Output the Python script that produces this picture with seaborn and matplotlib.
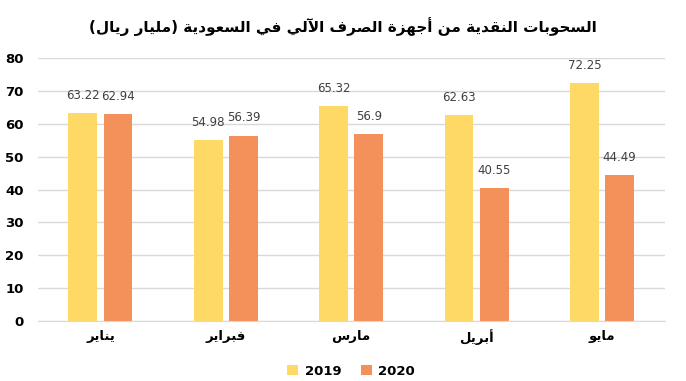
import pandas as pd
import matplotlib
matplotlib.use("Agg")
import matplotlib.pyplot as plt
import seaborn as sns

# Data
months = ["يناير", "فبراير", "مارس", "أبريل", "مايو"]
vals_2019 = [63.22, 54.98, 65.32, 62.63, 72.25]
vals_2020 = [62.94, 56.39, 56.9, 40.55, 44.49]
years = ["2019", "2020"]
title = "السحوبات النقدية من أجهزة الصرف الآلي في السعودية (مليار ريال)"

# Arabic shaping (matplotlib has no shaping/bidi): presentation forms
# (isolated, final, initial, medial); None means right-joining only
FORMS = {
    "ا": (0xFE8D, 0xFE8E, None, None), "أ": (0xFE83, 0xFE84, None, None),
    "آ": (0xFE81, 0xFE82, None, None), "ة": (0xFE93, 0xFE94, None, None),
    "د": (0xFEA9, 0xFEAA, None, None), "ر": (0xFEAD, 0xFEAE, None, None),
    "ز": (0xFEAF, 0xFEB0, None, None), "و": (0xFEED, 0xFEEE, None, None),
    "ب": (0xFE8F, 0xFE90, 0xFE91, 0xFE92), "ت": (0xFE95, 0xFE96, 0xFE97, 0xFE98),
    "ج": (0xFE9D, 0xFE9E, 0xFE9F, 0xFEA0), "ح": (0xFEA1, 0xFEA2, 0xFEA3, 0xFEA4),
    "س": (0xFEB1, 0xFEB2, 0xFEB3, 0xFEB4), "ص": (0xFEB9, 0xFEBA, 0xFEBB, 0xFEBC),
    "ع": (0xFEC9, 0xFECA, 0xFECB, 0xFECC), "ف": (0xFED1, 0xFED2, 0xFED3, 0xFED4),
    "ق": (0xFED5, 0xFED6, 0xFED7, 0xFED8), "ل": (0xFEDD, 0xFEDE, 0xFEDF, 0xFEE0),
    "م": (0xFEE1, 0xFEE2, 0xFEE3, 0xFEE4), "ن": (0xFEE5, 0xFEE6, 0xFEE7, 0xFEE8),
    "ه": (0xFEE9, 0xFEEA, 0xFEEB, 0xFEEC), "ي": (0xFEF1, 0xFEF2, 0xFEF3, 0xFEF4),
}
LAM_ALEF = {"ا": (0xFEFB, 0xFEFC), "أ": (0xFEF7, 0xFEF8), "آ": (0xFEF5, 0xFEF6)}


def dual(c):
    return c in FORMS and FORMS[c][2] is not None


def shape(text):
    out = []
    i = 0
    while i < len(text):
        c = text[i]
        prev = text[i - 1] if i > 0 else ""
        if c not in FORMS:
            out.append({"(": ")", ")": "("}.get(c, c))
            i += 1
            continue
        joined_prev = dual(prev)
        if c == "ل" and i + 1 < len(text) and text[i + 1] in LAM_ALEF:
            lig = LAM_ALEF[text[i + 1]]
            out.append(chr(lig[1] if joined_prev else lig[0]))
            i += 2
            continue
        nxt = text[i + 1] if i + 1 < len(text) else ""
        joined_next = dual(c) and nxt in FORMS
        f = FORMS[c]
        if joined_prev and joined_next:
            code = f[3]
        elif joined_prev:
            code = f[1]
        elif joined_next:
            code = f[2]
        else:
            code = f[0]
        out.append(chr(code))
        i += 1
    return "".join(reversed(out))


df = pd.DataFrame({
    "month": months * 2,
    "year": [years[0]] * len(months) + [years[1]] * len(months),
    "value": vals_2019 + vals_2020,
})

sns.set_style("white")
plt.rcParams["font.family"] = ["DejaVu Sans"]

fig = plt.figure(figsize=(6.86, 3.81), dpi=100)
ax = fig.add_axes([0.055, 0.157, 0.914, 0.691])

sns.barplot(data=df, x="month", y="value", hue="year",
            palette=["#FFD966", "#F4915A"], width=0.56, gap=0.18,
            saturation=1, linewidth=0, ax=ax, legend=True)

for cont in ax.containers:
    ax.bar_label(cont, labels=[f"{v:g}" for v in cont.datavalues],
                 padding=8, fontsize=8.5, color="#404040")

ax.set_ylim(0, 80)
ax.set_yticks(range(0, 81, 10))
ax.set_xlim(-0.5, 4.5)
ax.yaxis.grid(True, color="#d9d9d9", linewidth=1)
ax.set_axisbelow(True)
for s in ["left", "right", "top"]:
    ax.spines[s].set_visible(False)
ax.spines["bottom"].set_color("#d9d9d9")
ax.tick_params(axis="both", length=0, colors="black")
ax.tick_params(axis="y", pad=10)
ax.tick_params(axis="x", pad=6)
ax.set_xticks(range(len(months)))
ax.set_xticklabels([shape(m) for m in months], fontweight="bold", fontsize=9.5)
for lab in ax.get_yticklabels():
    lab.set_fontweight("bold")
    lab.set_fontsize(9.5)
ax.set_xlabel("")
ax.set_ylabel("")

leg = ax.legend(loc="center", bbox_to_anchor=(0.5, -0.19), ncol=2, frameon=False,
                handlelength=0.8, handleheight=0.8, columnspacing=1.5,
                handletextpad=0.5, prop={"weight": "bold", "size": 9.5})
for t in leg.get_texts():
    t.set_color("black")

fig.suptitle(shape(title), y=0.955, fontsize=11, fontweight="bold", color="black")

fig.savefig("out.png", dpi=100)
